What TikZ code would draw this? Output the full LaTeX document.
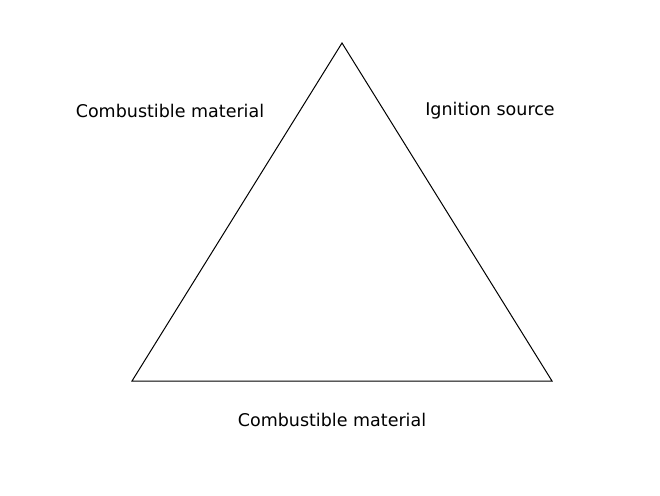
\documentclass[tikz,border=0pt]{standalone}
\usepackage{fontspec}
\setmainfont{DejaVu Sans}
\begin{document}
\begin{tikzpicture}
      [x=1pt,y=-1pt,%%%%%%%%%%%%%%%%%%%%%%%%%%%%%%
      lbl/.style={font=\fontsize{17.5}{20}\selectfont, inner sep=0pt},
      ]%%%%%%%%%%%%%%%%%%%%%%%%%%%%%%
      \useasboundingbox (0,0) rectangle (660,495);

      \coordinate (top) at (342,43);
      \coordinate (left) at (132,381);
      \coordinate (right) at (552,381);
      \draw[line width=1pt] (top) -- (right) -- (left) -- cycle;

      \node[lbl] (fuel) at (170,111) {Combustible material};
      \node[lbl] (heat) at (490,111) {Ignition source};
      \node[lbl] (base) at (332,420) {Combustible material};
    \end{tikzpicture}
\end{document}
